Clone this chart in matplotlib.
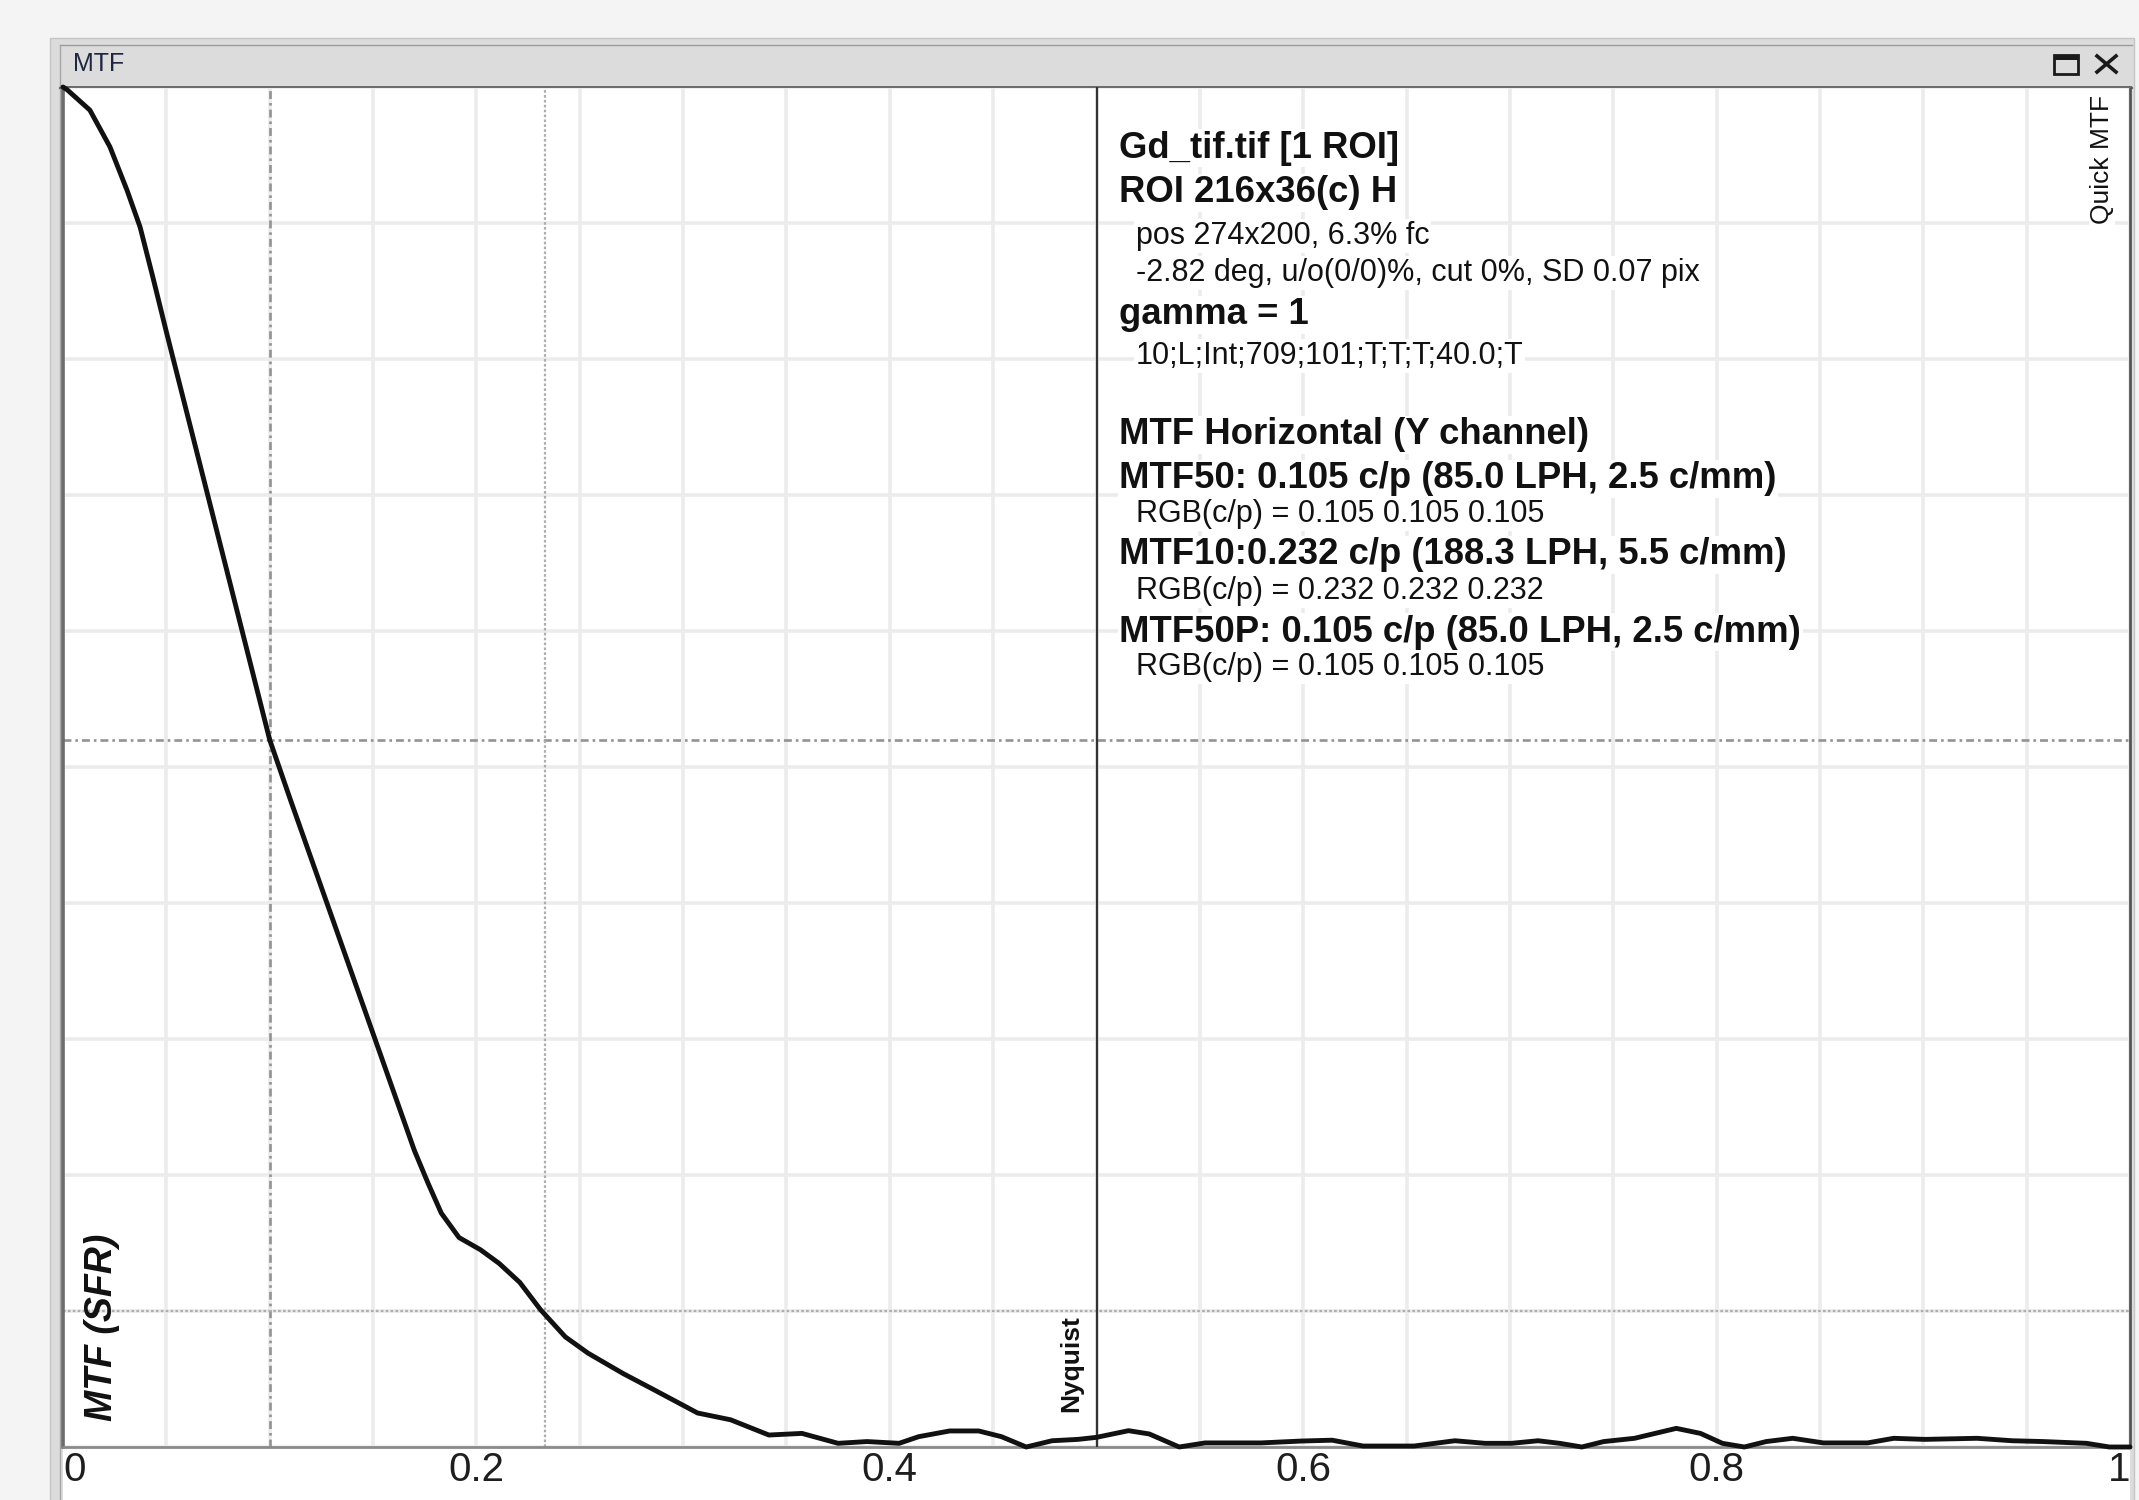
import numpy as np
import matplotlib
matplotlib.use("Agg")
import matplotlib.pyplot as plt
from matplotlib.patches import Rectangle
from matplotlib.colors import LinearSegmentedColormap
from matplotlib.ticker import MultipleLocator

plt.rcParams['font.family'] = ['Liberation Sans', 'DejaVu Sans']

# MTF curve (cycles/pixel, MTF)
freq = [0, 0.002, 0.013, 0.0227, 0.031, 0.0373, 0.0435, 0.05, 0.06, 0.07, 0.08,
        0.09, 0.1, 0.11, 0.12, 0.13, 0.14, 0.15, 0.16, 0.17, 0.1766, 0.183,
        0.1916, 0.202, 0.211, 0.221, 0.231, 0.243, 0.254, 0.271, 0.286, 0.307,
        0.323, 0.3415, 0.3575, 0.375, 0.389, 0.4045, 0.414, 0.429, 0.443, 0.454,
        0.466, 0.4785, 0.491, 0.5, 0.5155, 0.5255, 0.54, 0.5525, 0.5796, 0.5994,
        0.614, 0.629, 0.6536, 0.6734, 0.688, 0.7008, 0.7136, 0.7241, 0.7348,
        0.7454, 0.7603, 0.7805, 0.7922, 0.8028, 0.8134, 0.824, 0.8368, 0.8517,
        0.873, 0.8857, 0.9006, 0.926, 0.943, 0.958, 0.979, 0.99, 1.0]
mtf = [1.0, 0.998, 0.983, 0.956, 0.924, 0.897, 0.860, 0.82, 0.76, 0.70, 0.64,
       0.58, 0.520, 0.476, 0.433, 0.390, 0.347, 0.304, 0.261, 0.218, 0.194, 0.172,
       0.154, 0.145, 0.135, 0.121, 0.101, 0.081, 0.069, 0.054, 0.042, 0.025,
       0.020, 0.0088, 0.010, 0.0027, 0.004, 0.0027, 0.0076, 0.0118, 0.0118, 0.0076,
       0.0, 0.0046, 0.0056, 0.0071, 0.012, 0.0096, 0.0, 0.003, 0.003, 0.0044,
       0.005, 0.0007, 0.0007, 0.0046, 0.0027, 0.0027, 0.0046, 0.0027, 0.0,
       0.004, 0.0064, 0.0137, 0.010, 0.0027, 0.0, 0.004, 0.0064, 0.003,
       0.003, 0.0064, 0.0056, 0.0064, 0.0046, 0.004, 0.0027, 0.0, 0.0]

# marker lines as drawn
mtf50_freq, mtf50_level = 0.100, 0.52
mtf10_freq, mtf10_level = 0.233, 0.10
nyquist = 0.5

xticks = [0, 0.2, 0.4, 0.6, 0.8, 1.0]
xlabels = ['0', '0.2', '0.4', '0.6', '0.8', '1']

info_lines = ["Gd_tif.tif [1 ROI]",
              "ROI 216x36(c) H",
              "pos 274x200, 6.3% fc",
              "-2.82 deg, u/o(0/0)%, cut 0%, SD 0.07 pix",
              "gamma = 1",
              "10;L;Int;709;101;T;T;T;40.0;T",
              "MTF Horizontal (Y channel)",
              "MTF50: 0.105 c/p (85.0 LPH, 2.5 c/mm)",
              "RGB(c/p) = 0.105 0.105 0.105",
              "MTF10:0.232 c/p (188.3 LPH, 5.5 c/mm)",
              "RGB(c/p) = 0.232 0.232 0.232",
              "MTF50P: 0.105 c/p (85.0 LPH, 2.5 c/mm)",
              "RGB(c/p) = 0.105 0.105 0.105"]
info_bold = [1, 1, 0, 0, 1, 0, 1, 1, 0, 1, 0, 1, 0]

W, H = 2139, 1500
fig = plt.figure(figsize=(W / 100, H / 100), dpi=100, facecolor='#f4f4f4')

# window chrome (pixel coords)
bg = fig.add_axes([0, 0, 1, 1])
bg.add_patch(Rectangle((50, 38), 2084, 1470, facecolor='#dcdcdc',
                       edgecolor='#c4c4c4', lw=1))
cm = LinearSegmentedColormap.from_list('tb', ['#a8a8a8', '#d6d6d6'])
bg.imshow(np.linspace(0, 1, 60).reshape(-1, 1), cmap=cm, aspect='auto',
          extent=(60, 2132, 87, 45), origin='upper')
bg.plot([60, 2132], [45, 45], color='#9c9c9c', lw=1)
bg.plot([60, 60], [45, 1500], color='#a6a6a6', lw=1)
bg.plot([60, 2132], [87.5, 87.5], color='#6a6a6a', lw=1.6)
bg.add_patch(Rectangle((63, 1447), 2067, 60, facecolor='white', edgecolor='none'))
bg.text(73, 64, 'MTF', fontsize=18, va='center', color='#1e2640')
# restore / close icons
bg.add_patch(Rectangle((2054, 55), 24, 19, fill=False, edgecolor='#1a1a1a', lw=2))
bg.add_patch(Rectangle((2054, 55), 24, 5, facecolor='#1a1a1a', edgecolor='none'))
bg.plot([2097, 2116], [56, 72], color='#1a1a1a', lw=2.6)
bg.plot([2097, 2116], [72, 56], color='#1a1a1a', lw=2.6)
bg.set_xlim(0, W)
bg.set_ylim(H, 0)
bg.axis('off')

# plot area
ax = fig.add_axes([63 / W, (H - 1447) / H, (2130 - 63) / W, (1447 - 87) / H])
ax.set_zorder(2)
ax.set_facecolor('white')
ax.set_xlim(0, 1)
ax.set_ylim(0, 1)
ax.xaxis.set_minor_locator(MultipleLocator(0.05))
ax.set_yticks(np.arange(0, 1.01, 0.1))
ax.set_yticklabels([])
ax.set_xticks(xticks)
ax.set_xticklabels(xlabels, fontsize=29, color='#1e1e1e')
ax.tick_params(which='both', length=0)
ax.tick_params(axis='x', pad=3)
lbls = ax.get_xticklabels()
lbls[0].set_ha('left')
lbls[-1].set_ha('right')
ax.grid(True, which='both', color='#ececec', lw=2.6)
ax.set_axisbelow(True)

for s, c, w in [('left', '#6c6c6c', 2.6), ('bottom', '#8a8a8a', 2.0),
                ('top', '#6a6a6a', 1.4), ('right', '#555555', 2.0)]:
    ax.spines[s].set_color(c)
    ax.spines[s].set_linewidth(w)

ax.axvline(mtf50_freq, color='#939393', lw=1.9, ls=(0, (3, 1.5, 1, 1.5)), zorder=1)
ax.axhline(mtf50_level, color='#939393', lw=1.9, ls=(0, (3, 1.5, 1, 1.5)), zorder=1)
ax.axvline(mtf10_freq, color='#aeaeae', lw=1.6, ls=(0, (1.2, 1)), zorder=1)
ax.axhline(mtf10_level, color='#aeaeae', lw=1.6, ls=(0, (1.2, 1)), zorder=1)
ax.axvline(nyquist, color='#333333', lw=1.6, zorder=3)

ax.plot(freq, mtf, color='#111111', lw=3.5, zorder=5, clip_on=False,
        solid_capstyle='round', solid_joinstyle='round')

# info text block
rows_px = [148, 193, 236, 273, 315, 356, 435, 479, 514, 555, 591, 632, 667]
for txt, b, r in zip(info_lines, info_bold, rows_px):
    ax.text(0.511 if b else 0.519, (1447 - r) / 1360, txt,
            fontsize=26.3 if b else 22, fontweight='bold' if b else 'normal',
            color='#111111', va='center', ha='left', zorder=6,
            bbox=dict(facecolor='white', edgecolor='none', pad=1))

ax.text(0.9865, 0.994, 'Quick MTF', rotation=90, fontsize=19, ha='center',
        va='top', color='#111111', zorder=6,
        bbox=dict(facecolor='white', edgecolor='none', pad=1))
ax.text(0.4877, 0.026, 'Nyquist', rotation=90, fontsize=19, fontweight='bold',
        ha='center', va='bottom', color='#111111', zorder=6)
ax.text(0.019, 0.019, 'MTF (SFR)', rotation=90, fontsize=27, fontweight='bold',
        fontstyle='italic', ha='center', va='bottom', color='#111111', zorder=6)

fig.savefig('out.png', dpi=100, facecolor=fig.get_facecolor())
